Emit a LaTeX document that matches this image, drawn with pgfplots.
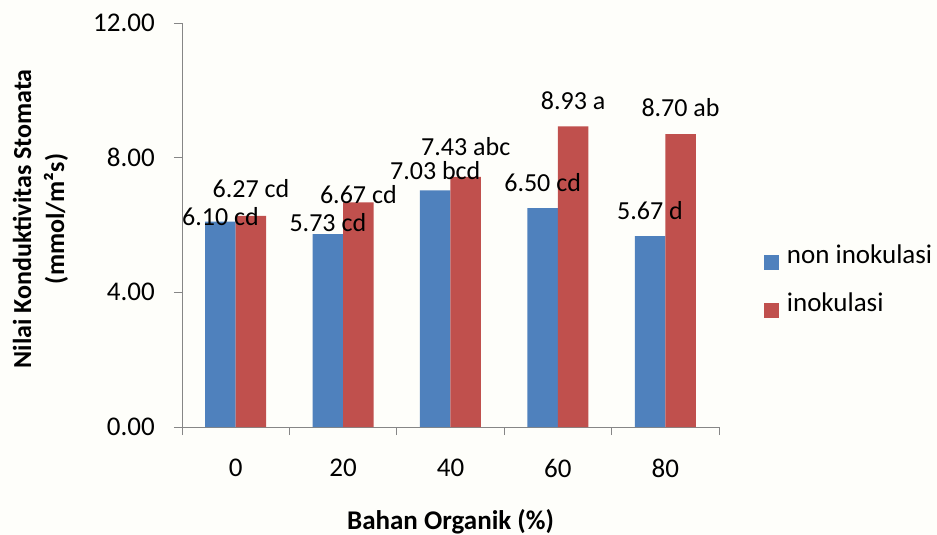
\documentclass[border=0pt]{standalone}
\usepackage{pgfplots}
\pgfplotsset{compat=1.18}
\usepackage{pgfplotstable}
\usepackage{fontspec}
\setmainfont{Carlito}

\definecolor{barblue}{RGB}{79,129,189}
\definecolor{barred}{RGB}{192,80,77}
\definecolor{axisgray}{RGB}{134,134,134}
\definecolor{paper}{RGB}{254,254,250}

% x = category index (0..4 -> 0,20,40,60,80 % bahan organik), dy = label lift in bp
\pgfplotstableread{
x y dy lab
0 6.10 5.4 {6.10 cd}
1 5.73 11.2 {5.73 cd}
2 7.03 19.4 {7.03 bcd}
3 6.50 26 {6.50 cd}
4 5.67 26 {5.67 d}
}\noninok

\pgfplotstableread{
x y dy lab
0 6.27 27.7 {6.27 cd}
1 6.67 8 {6.67 cd}
2 7.43 30 {7.43 abc}
3 8.93 26 {8.93 a}
4 8.70 27 {8.70 ab}
}\inok

\pgfplotsset{
  sqlegend/.style={legend image code/.code={\fill[##1] (0bp,-6.5bp) rectangle (15bp,8.5bp);}},
  barlabels/.style={
    ybar, bar shift=#1, bar width=30.5bp, draw=none, fill=none, forget plot,
    point meta=explicit symbolic, nodes near coords,
    visualization depends on={\thisrow{dy}\as\dy},
    every node near coord/.append style={anchor=center, yshift=\dy bp,
      inner sep=0pt, text=black, font=\fontsize{26bp}{30bp}\selectfont},
  },
}

\begin{document}
\begin{tikzpicture}[font=\fontsize{27bp}{32bp}\selectfont]
\fill[paper] (-182bp,-108bp) rectangle (755bp,427bp);
\begin{axis}[
  scale only axis, width=537bp, height=404bp,
  xmin=-0.5, xmax=4.5, ymin=0, ymax=12,
  axis x line*=bottom, axis y line*=left,
  axis line style={axisgray, line width=0.8bp},
  tick align=outside, major tick length=8bp,
  tick style={axisgray, line width=0.8bp},
  xtick={-0.5,0.5,1.5,2.5,3.5,4.5}, xticklabels={},
  extra x ticks={0,1,2,3,4}, extra x tick labels={0,20,40,60,80},
  extra x tick style={major tick length=0pt},
  xticklabel style={anchor=north, inner sep=0pt, yshift=-32bp, text=black},
  ytick={0,4,8,12}, yticklabels={0.00,4.00,8.00,12.00},
  yticklabel style={anchor=east, inner sep=0pt, xshift=-19bp, text=black},
  every axis y label/.style={at={(axis description cs:-0.2635,0.515)},
    rotate=90, anchor=center, align=center,
    font=\bfseries\fontsize{26bp}{33bp}\selectfont},
  every axis x label/.style={at={(axis description cs:0.5,0)},
    yshift=-95bp, anchor=center, font=\bfseries\fontsize{27bp}{32bp}\selectfont},
  xlabel={Bahan Organik (\%)},
  ylabel={Nilai Konduktivitas Stomata\\(mmol/m²s)},
  ybar=0pt, bar width=30.5bp,
  legend style={at={(axis description cs:1.0838,0.36)}, anchor=west,
    draw=none, fill=none, inner sep=0pt, row sep=23bp, column sep=7.7bp,
    nodes={inner sep=0pt, anchor=base west},
    font=\fontsize{27bp}{32bp}\selectfont},
  legend cell align=left,
  clip=false,
]
\addplot[fill=barblue, draw=none, sqlegend] table[x=x, y=y]{\noninok};
\addlegendentry{non inokulasi}
\addplot[fill=barred, draw=none, sqlegend] table[x=x, y=y]{\inok};
\addlegendentry{inokulasi}
% value labels on top of both bar series
\addplot[barlabels=-15.25bp] table[x=x, y=y, meta=lab]{\noninok};
\addplot[barlabels=15.25bp] table[x=x, y=y, meta=lab]{\inok};
\end{axis}
\pgfresetboundingbox
\path (-182bp,-108bp) rectangle (755bp,427bp);
\end{tikzpicture}
\end{document}
